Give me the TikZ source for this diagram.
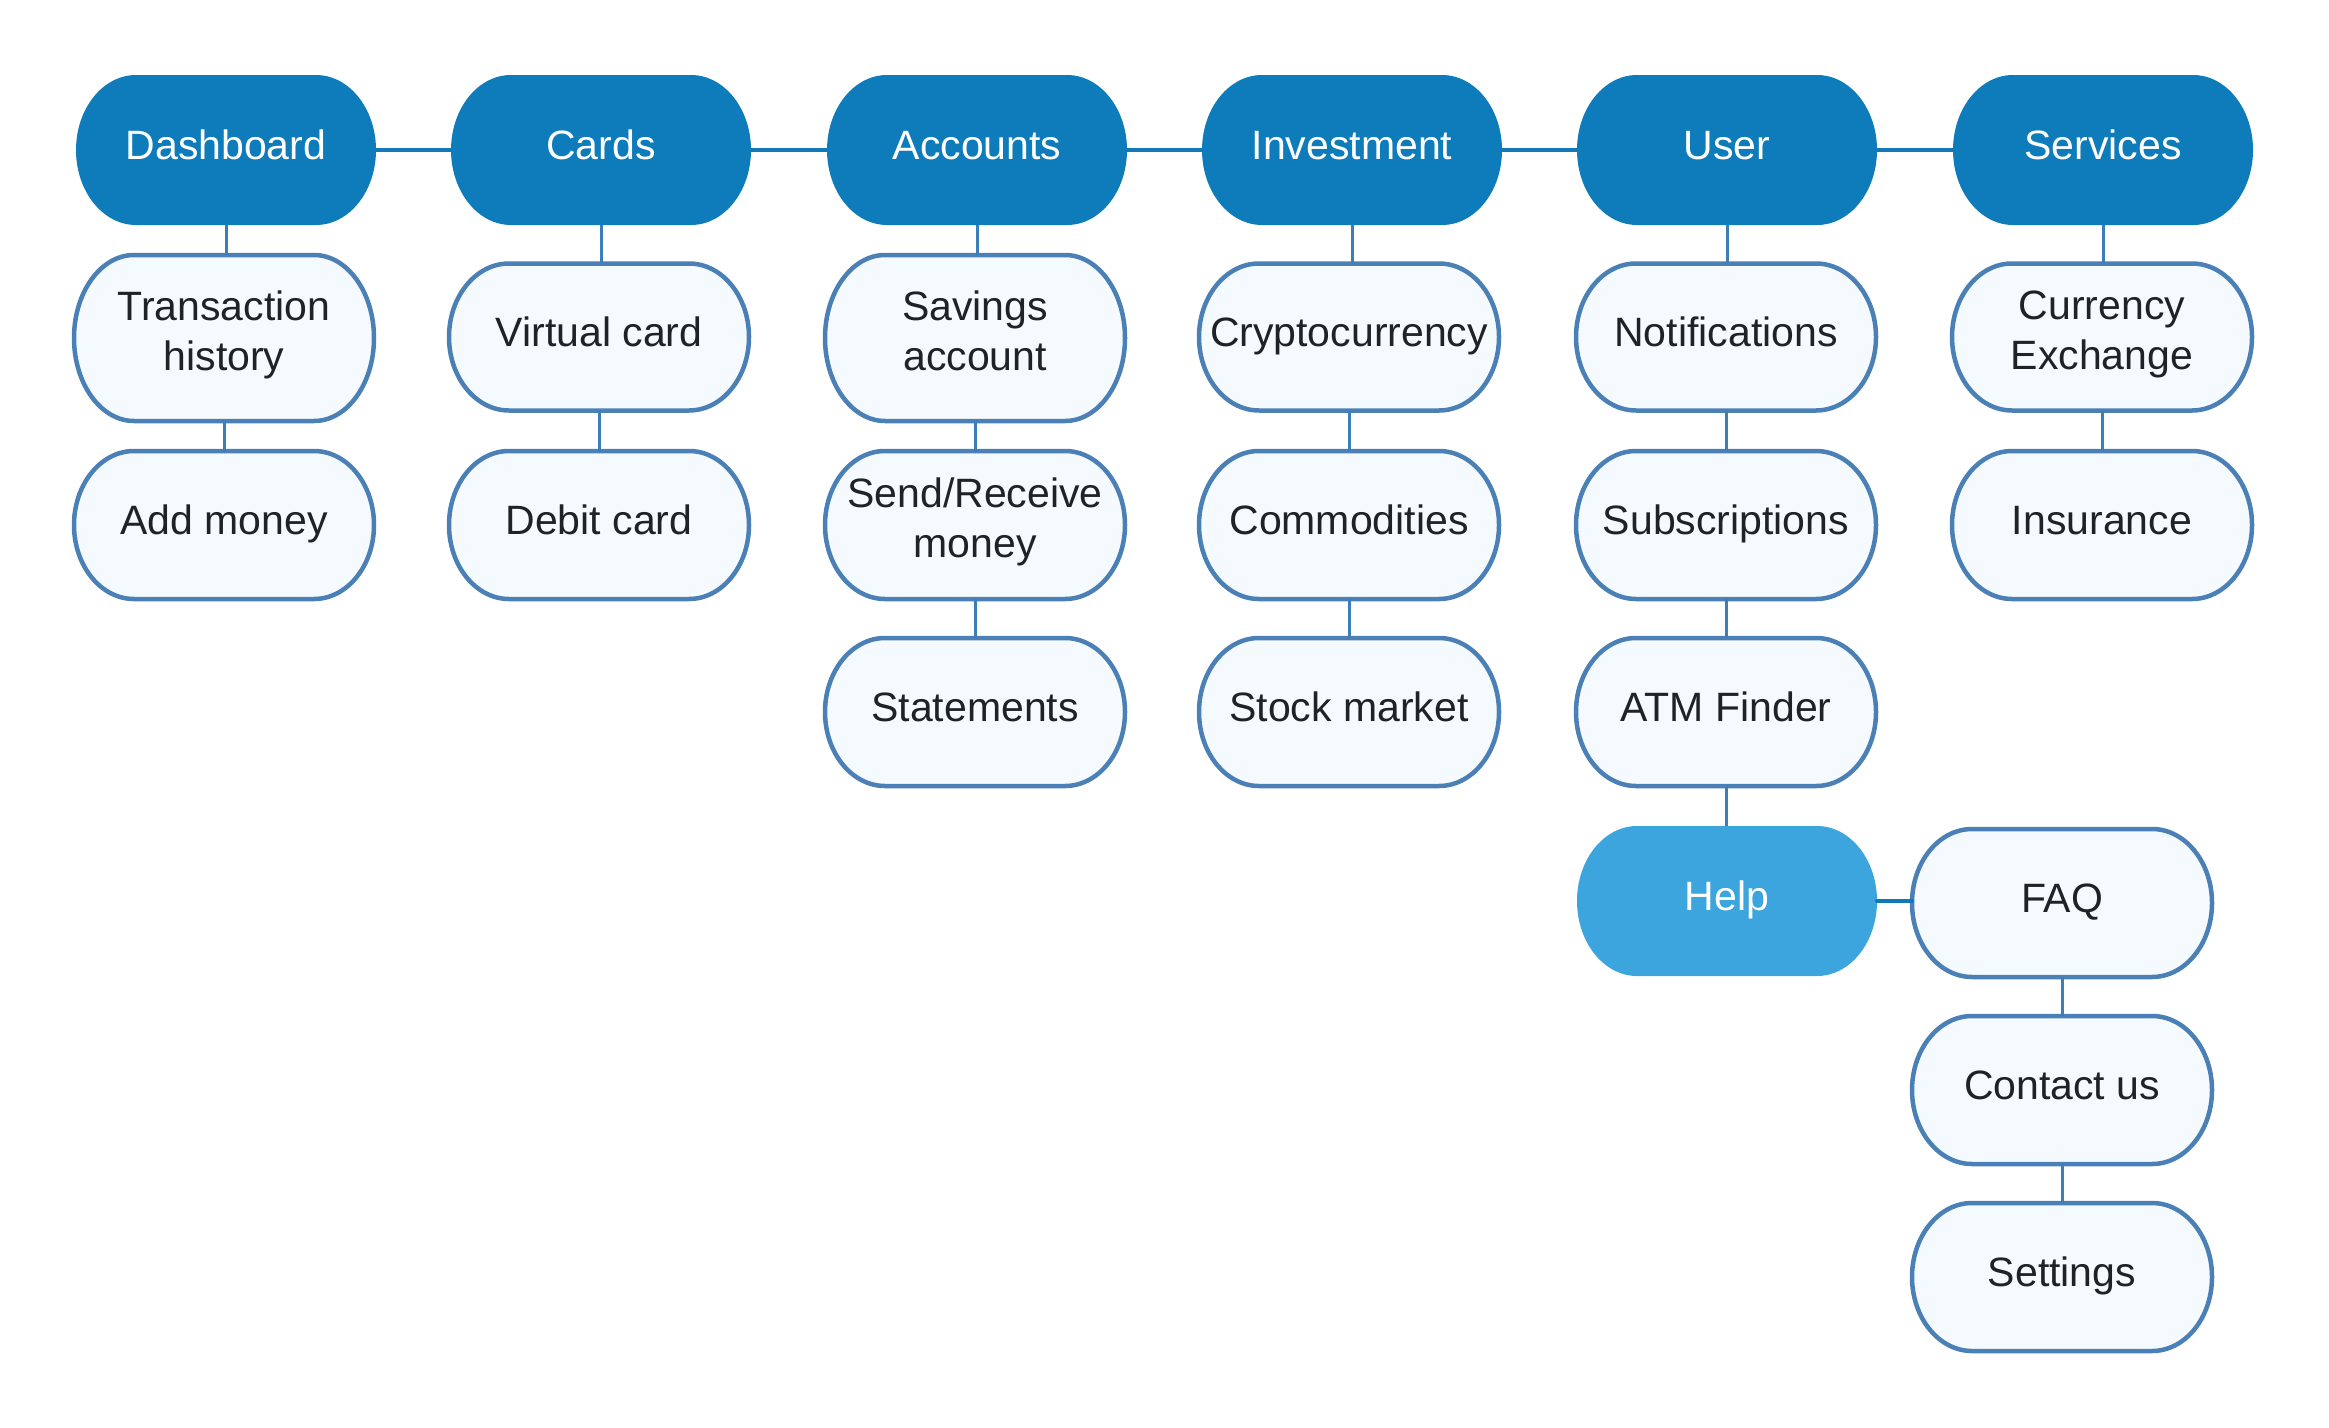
\documentclass[tikz,border=0pt]{standalone}
\usepackage{fontspec}
\setmainfont{Liberation Sans}
\definecolor{topblue}{HTML}{0E7CBA}
\definecolor{helpblue}{HTML}{3DA5DD}
\definecolor{edgeblue}{HTML}{4A80B5}
\definecolor{paleblue}{HTML}{F5FAFF}
\definecolor{linkblue}{HTML}{1179BA}
\definecolor{vlink}{HTML}{3A7FBA}
\definecolor{inkdark}{HTML}{1E2328}
\tikzset{
 topbox/.style={fill=topblue},
 helpbox/.style={fill=helpblue},
 childbox/.style={fill=paleblue,draw=edgeblue,line width=4.5pt},
 lbl/.style={font=\fontsize{41pt}{50pt}\selectfont, align=center, text=inkdark, inner sep=0pt,
   execute at begin node=\strut, execute at end node=\strut, yshift=1pt},
 wlbl/.style={text=white},
 twoline/.style={yshift=-1.5pt},
 hconn/.style={draw=linkblue,line width=4.5pt,line cap=round},
 vconn/.style={draw=vlink,line width=3pt},
 anchorbox/.style={inner sep=0pt, minimum width=300pt, draw=none}
}
% #1 text options, #2 name, #3 x, #4 y, #5 half height, #6 shape style, #7 text
\newcommand\tbox[7][]{%
 \path[#6] (#3-90,#4-#5) -- (#3+90,#4-#5)
   arc[start angle=90,end angle=-90,x radius=60pt,y radius=#5pt]
   -- (#3-90,#4+#5)
   arc[start angle=270,end angle=90,x radius=60pt,y radius=#5pt] -- cycle;
 \node[anchorbox, minimum height={2*#5pt}] (#2) at (#3,#4) {};
 \node[lbl,#1] (#2-t) at (#3,#4) {#7};
}
\begin{document}
\begin{tikzpicture}[x=1pt,y=-1pt]
\useasboundingbox (0,0) rectangle (2329,1427);
% top row
\tbox[wlbl]{dash}{226}{150}{75}{topbox}{Dashboard}
\tbox[wlbl]{cards}{601}{150}{75}{topbox}{Cards}
\tbox[wlbl]{accts}{977}{150}{75}{topbox}{Accounts}
\tbox[wlbl]{invest}{1352}{150}{75}{topbox}{Investment}
\tbox[wlbl]{user}{1727}{150}{75}{topbox}{User}
\tbox[wlbl]{services}{2103}{150}{75}{topbox}{Services}
% second row
\tbox[twoline]{th}{224}{338}{83}{childbox}{Transaction\\history}
\tbox{vc}{599}{337}{73.5}{childbox}{Virtual card}
\tbox[twoline]{sa}{975}{338}{83}{childbox}{Savings\\account}
\tbox{crypto}{1349}{337}{73.5}{childbox}{Cryptocurrency}
\tbox{notif}{1726}{337}{73.5}{childbox}{Notifications}
\tbox[twoline]{curr}{2102}{337}{73.5}{childbox}{Currency\\Exchange}
% third row
\tbox{addm}{224}{525}{74}{childbox}{Add money}
\tbox{debit}{599}{525}{74}{childbox}{Debit card}
\tbox[twoline]{sendr}{975}{525}{74}{childbox}{Send/Receive\\money}
\tbox{commod}{1349}{525}{74}{childbox}{Commodities}
\tbox{subs}{1726}{525}{74}{childbox}{Subscriptions}
\tbox{insur}{2102}{525}{74}{childbox}{Insurance}
% fourth row
\tbox{stmt}{975}{712}{74}{childbox}{Statements}
\tbox{stock}{1349}{712}{74}{childbox}{Stock market}
\tbox{atm}{1726}{712}{74}{childbox}{ATM Finder}
% help branch
\tbox[wlbl]{help}{1727}{901}{75}{helpbox}{Help}
\tbox{faq}{2062}{903}{74}{childbox}{FAQ}
\tbox{contact}{2062}{1090}{74}{childbox}{Contact us}
\tbox{settings}{2062}{1277}{74}{childbox}{Settings}
% horizontal connectors
\draw[hconn] (dash.east) -- (cards.west);
\draw[hconn] (cards.east) -- (accts.west);
\draw[hconn] (accts.east) -- (invest.west);
\draw[hconn] (invest.east) -- (user.west);
\draw[hconn] (user.east) -- (services.west);
\draw[hconn] (help.east) -- (help.east -| faq.west);
% vertical connectors
\draw[vconn] (dash.south) -- (dash.south |- th.north);
\draw[vconn] (th.south) -- (th.south |- addm.north);
\draw[vconn] (cards.south) -- (cards.south |- vc.north);
\draw[vconn] (vc.south) -- (vc.south |- debit.north);
\draw[vconn] (accts.south) -- (accts.south |- sa.north);
\draw[vconn] (sa.south) -- (sa.south |- sendr.north);
\draw[vconn] (sendr.south) -- (sendr.south |- stmt.north);
\draw[vconn] (invest.south) -- (invest.south |- crypto.north);
\draw[vconn] (crypto.south) -- (crypto.south |- commod.north);
\draw[vconn] (commod.south) -- (commod.south |- stock.north);
\draw[vconn] (user.south) -- (user.south |- notif.north);
\draw[vconn] (notif.south) -- (notif.south |- subs.north);
\draw[vconn] (subs.south) -- (subs.south |- atm.north);
\draw[vconn] (atm.south) -- (atm.south |- help.north);
\draw[vconn] (services.south) -- (services.south |- curr.north);
\draw[vconn] (curr.south) -- (curr.south |- insur.north);
\draw[vconn] (faq.south) -- (faq.south |- contact.north);
\draw[vconn] (contact.south) -- (contact.south |- settings.north);
\end{tikzpicture}
\end{document}
